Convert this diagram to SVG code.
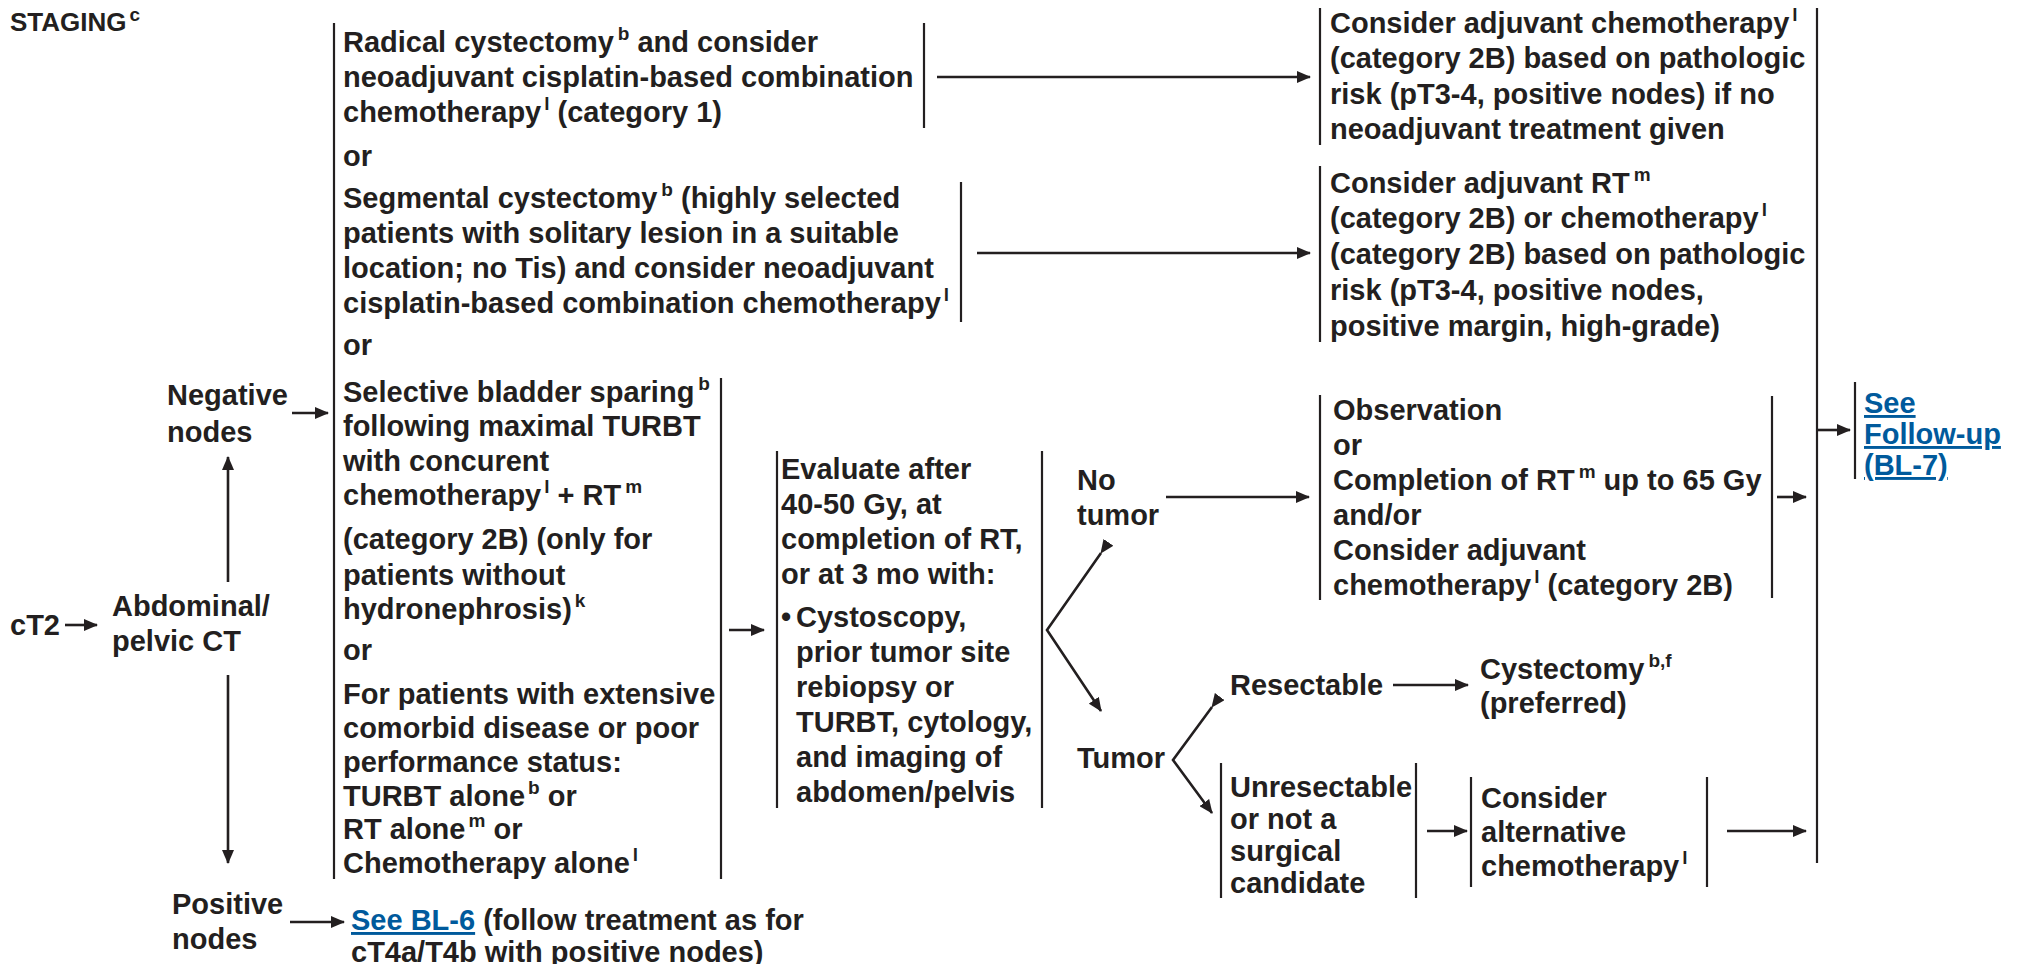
<svg xmlns="http://www.w3.org/2000/svg" width="2019" height="964" viewBox="0 0 2019 964">
<style>
text{font-family:"Liberation Sans",Arial,sans-serif;font-weight:bold;font-size:29px;fill:#231f20}
.s{font-size:19px}
.st{font-size:26px}
.lk{fill:#005a9c;text-decoration:underline}
.br{stroke:#231f20;stroke-width:2.2;fill:none}
.cn{stroke:#231f20;stroke-width:2.6;fill:none}
</style>
<defs>
<marker id="ah" markerUnits="userSpaceOnUse" markerWidth="14" markerHeight="12" refX="13" refY="6" orient="auto">
<path d="M0,0 L14,6 L0,12 z" fill="#231f20"/>
</marker>
</defs>
<rect width="2019" height="964" fill="#ffffff"/>

<g id="n-staging">
<text x="10" y="31" class="st">STAGING<tspan class="s" dx="3" dy="-10">c</tspan></text>
</g>

<g id="n-ct2"><text x="10" y="635">cT2</text></g>

<g id="n-abdominal-ct">
<text x="112" y="616">Abdominal/</text>
<text x="112" y="651">pelvic CT</text>
</g>

<g id="n-negative">
<text x="167" y="405">Negative</text>
<text x="167" y="442">nodes</text>
</g>

<g id="n-positive">
<text x="172" y="914">Positive</text>
<text x="172" y="949">nodes</text>
</g>

<g id="n-bl6">
<text x="351" y="930"><tspan class="lk">See BL-6</tspan> (follow treatment as for</text>
<text x="351" y="962">cT4a/T4b with positive nodes)</text>
</g>

<g id="n-options">
<line class="br" x1="334" y1="23" x2="334" y2="879"/>
<text x="343" y="166">or</text>
<text x="343" y="355">or</text>
<text x="343" y="660">or</text>
</g>

<g id="n-radical">
<line class="br" x1="924" y1="23" x2="924" y2="128"/>
<text x="343" y="52">Radical cystectomy<tspan class="s" dx="4" dy="-12">b</tspan><tspan dy="12"> and consider</tspan></text>
<text x="343" y="87">neoadjuvant cisplatin-based combination</text>
<text x="343" y="122">chemotherapy<tspan class="s" dx="3" dy="-12">l</tspan><tspan dy="12"> (category 1)</tspan></text>
</g>

<g id="n-segmental">
<line class="br" x1="961" y1="182" x2="961" y2="322"/>
<text x="343" y="208">Segmental cystectomy<tspan class="s" dx="4" dy="-12">b</tspan><tspan dy="12">  (highly selected</tspan></text>
<text x="343" y="243">patients with solitary lesion in a suitable</text>
<text x="343" y="278">location; no Tis) and consider neoadjuvant</text>
<text x="343" y="313">cisplatin-based combination chemotherapy<tspan class="s" dx="3" dy="-12">l</tspan></text>
</g>

<g id="n-selective">
<line class="br" x1="721" y1="378" x2="721" y2="879"/>
<text x="343" y="402">Selective bladder sparing<tspan class="s" dx="4" dy="-12">b</tspan></text>
<text x="343" y="436">following maximal TURBT</text>
<text x="343" y="471">with concurent</text>
<text x="343" y="505">chemotherapy<tspan class="s" dx="3" dy="-12">l</tspan><tspan dy="12"> + RT</tspan><tspan class="s" dx="4" dy="-12">m</tspan></text>
<text x="343" y="549">(category 2B) (only for</text>
<text x="343" y="585">patients without</text>
<text x="343" y="619">hydronephrosis)<tspan class="s" dx="3" dy="-12">k</tspan></text>
</g>

<g id="n-comorbid">
<text x="343" y="704">For patients with extensive</text>
<text x="343" y="738">comorbid disease or poor</text>
<text x="343" y="772">performance status:</text>
<text x="343" y="806">TURBT alone<tspan class="s" dx="3" dy="-12">b</tspan><tspan dy="12"> or</tspan></text>
<text x="343" y="839">RT alone<tspan class="s" dx="3" dy="-12">m</tspan><tspan dy="12"> or</tspan></text>
<text x="343" y="873">Chemotherapy alone<tspan class="s" dx="3" dy="-12">l</tspan></text>
</g>

<g id="n-adjuvant-chemo">
<line class="br" x1="1320" y1="8" x2="1320" y2="145"/>
<text x="1330" y="33">Consider adjuvant chemotherapy<tspan class="s" dx="3" dy="-12">l</tspan></text>
<text x="1330" y="68">(category 2B) based on pathologic</text>
<text x="1330" y="104">risk (pT3-4, positive nodes) if no</text>
<text x="1330" y="139">neoadjuvant treatment given</text>
</g>

<g id="n-adjuvant-rt">
<line class="br" x1="1320" y1="166" x2="1320" y2="342"/>
<text x="1330" y="193">Consider adjuvant RT<tspan class="s" dx="4" dy="-12">m</tspan></text>
<text x="1330" y="228">(category 2B) or chemotherapy<tspan class="s" dx="3" dy="-12">l</tspan></text>
<text x="1330" y="264">(category 2B) based on pathologic</text>
<text x="1330" y="300">risk (pT3-4, positive nodes,</text>
<text x="1330" y="336">positive margin, high-grade)</text>
</g>

<g id="n-evaluate">
<line class="br" x1="777" y1="451" x2="777" y2="808"/>
<line class="br" x1="1042" y1="451" x2="1042" y2="808"/>
<text x="781" y="479">Evaluate after</text>
<text x="781" y="514">40-50 Gy, at</text>
<text x="781" y="549">completion of RT,</text>
<text x="781" y="584">or at 3 mo with:</text>
<text x="781" y="627">•</text>
<text x="796" y="627">Cystoscopy,</text>
<text x="796" y="662">prior tumor site</text>
<text x="796" y="697">rebiopsy or</text>
<text x="796" y="732">TURBT, cytology,</text>
<text x="796" y="767">and imaging of</text>
<text x="796" y="802">abdomen/pelvis</text>
</g>

<g id="n-no-tumor">
<text x="1077" y="490">No</text>
<text x="1077" y="525">tumor</text>
</g>

<g id="n-tumor"><text x="1077" y="768">Tumor</text></g>

<g id="n-observation">
<line class="br" x1="1320" y1="395" x2="1320" y2="600"/>
<line class="br" x1="1772" y1="396" x2="1772" y2="598"/>
<text x="1333" y="420">Observation</text>
<text x="1333" y="455">or</text>
<text x="1333" y="490">Completion of RT<tspan class="s" dx="4" dy="-12">m</tspan><tspan dy="12"> up to 65 Gy</tspan></text>
<text x="1333" y="525">and/or</text>
<text x="1333" y="560">Consider adjuvant</text>
<text x="1333" y="595">chemotherapy<tspan class="s" dx="3" dy="-12">l</tspan><tspan dy="12"> (category 2B)</tspan></text>
</g>

<g id="n-resectable"><text x="1230" y="695">Resectable</text></g>

<g id="n-cystectomy">
<text x="1480" y="679">Cystectomy<tspan class="s" dx="4" dy="-12">b,f</tspan></text>
<text x="1480" y="713">(preferred)</text>
</g>

<g id="n-unresectable">
<line class="br" x1="1221" y1="763" x2="1221" y2="898"/>
<line class="br" x1="1416" y1="763" x2="1416" y2="898"/>
<text x="1230" y="797">Unresectable</text>
<text x="1230" y="829">or not a</text>
<text x="1230" y="861">surgical</text>
<text x="1230" y="893">candidate</text>
</g>

<g id="n-alternative">
<line class="br" x1="1471" y1="777" x2="1471" y2="887"/>
<line class="br" x1="1707" y1="777" x2="1707" y2="887"/>
<text x="1481" y="808">Consider</text>
<text x="1481" y="842">alternative</text>
<text x="1481" y="876">chemotherapy<tspan class="s" dx="3" dy="-12">l</tspan></text>
</g>

<g id="n-followup">
<line class="br" x1="1855" y1="382" x2="1855" y2="479"/>
<text x="1864" y="413" class="lk">See</text>
<text x="1864" y="444" class="lk">Follow-up</text>
<text x="1864" y="475" class="lk">(BL-7)</text>
</g>

<g id="connectors">
<line class="br" x1="1817" y1="8" x2="1817" y2="863"/>
<line class="cn" x1="65" y1="625" x2="97" y2="625" marker-end="url(#ah)"/>
<line class="cn" x1="228" y1="582" x2="228" y2="457" marker-end="url(#ah)"/>
<line class="cn" x1="228" y1="675" x2="228" y2="863" marker-end="url(#ah)"/>
<line class="cn" x1="292" y1="413" x2="328" y2="413" marker-end="url(#ah)"/>
<line class="cn" x1="290" y1="922" x2="344" y2="922" marker-end="url(#ah)"/>
<line class="cn" x1="937" y1="77" x2="1310" y2="77" marker-end="url(#ah)"/>
<line class="cn" x1="977" y1="253" x2="1310" y2="253" marker-end="url(#ah)"/>
<line class="cn" x1="729" y1="630" x2="764" y2="630" marker-end="url(#ah)"/>
<polyline class="cn" points="1101,553 1047,630 1101,711" marker-start="url(#ah)" marker-end="url(#ah)"/>
<line class="cn" x1="1166" y1="497" x2="1309" y2="497" marker-end="url(#ah)"/>
<line class="cn" x1="1777" y1="497" x2="1806" y2="497" marker-end="url(#ah)"/>
<polyline class="cn" points="1212,707 1173,760 1212,813" marker-start="url(#ah)" marker-end="url(#ah)"/>
<line class="cn" x1="1393" y1="685" x2="1468" y2="685" marker-end="url(#ah)"/>
<line class="cn" x1="1427" y1="831" x2="1467" y2="831" marker-end="url(#ah)"/>
<line class="cn" x1="1727" y1="831" x2="1806" y2="831" marker-end="url(#ah)"/>
<line class="cn" x1="1818" y1="430" x2="1850" y2="430" marker-end="url(#ah)"/>
</g>
</svg>
